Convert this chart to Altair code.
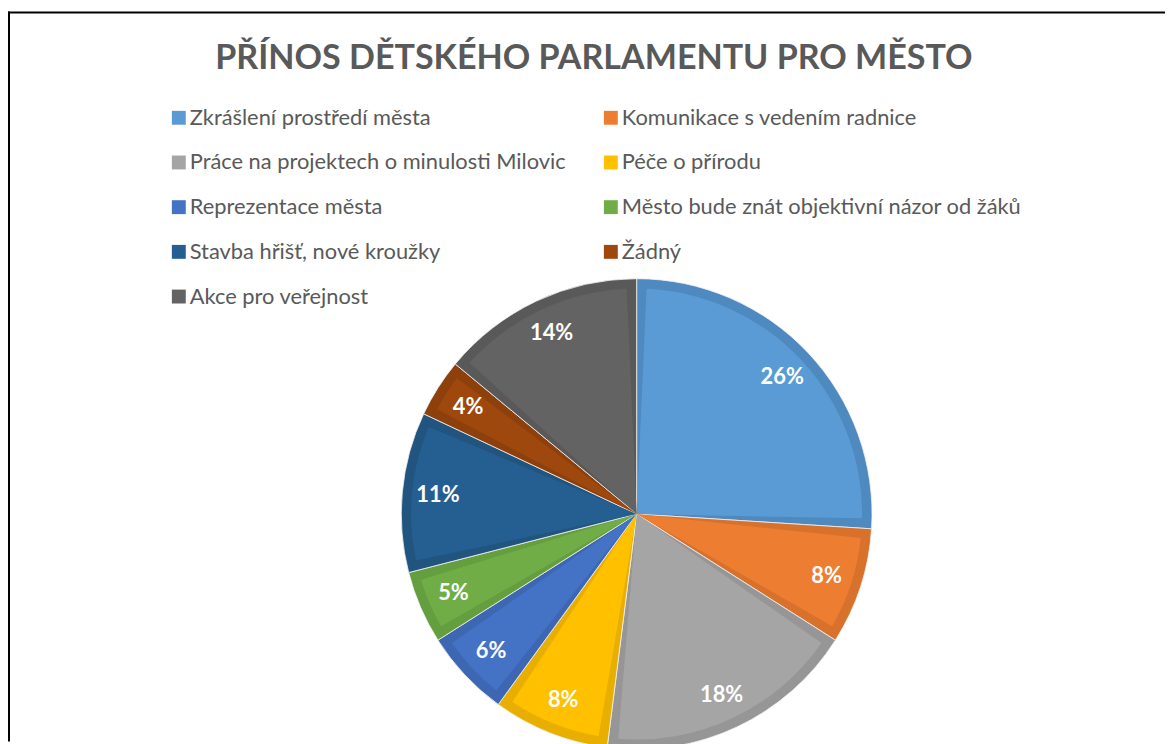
import altair as alt
import pandas as pd

title_text = ["PŘÍNOS DĚTSKÉHO PARLAMENTU PRO MĚSTO"]
categories = [
    "Zkrášlení prostředí města",
    "Komunikace s vedením radnice",
    "Práce na projektech o minulosti Milovic",
    "Péče o přírodu",
    "Reprezentace města",
    "Město bude znát objektivní názor od žáků",
    "Stavba hřišť, nové kroužky",
    "Žádný",
    "\u2002Akce pro veřejnost",
]
values = [26, 8, 18, 8, 6, 5, 11, 4, 14]
fill_colors = ["#5B9BD5", "#ED7D31", "#A5A5A5", "#FFC000", "#4472C4",
               "#70AD47", "#255E91", "#9E480E", "#636363"]
border_colors = ["#4E89BF", "#D7712B", "#969696", "#E8AF00", "#3D67B3",
                 "#659E3F", "#21557F", "#8D400C", "#595959"]

df = pd.DataFrame({
    "cat": categories,
    "val": values,
    "idx": list(range(len(values))),
    "dark": border_colors,
    "lbl": [f"{v}%" for v in values],
})

W, H = 1165, 736
CX, CY = 633, 507
R = 237

base = alt.Chart(df).encode(
    theta=alt.Theta("val:Q", stack=True),
    order=alt.Order("idx:Q"),
    x=alt.value(CX),
    y=alt.value(CY),
)

dark = base.mark_arc(outerRadius=R, stroke="#f2f2f2", strokeWidth=0.8).encode(
    color=alt.Color("dark:N", scale=None)
)

light = base.mark_arc(outerRadius=R - 10, padAngle=0.088).encode(
    color=alt.Color(
        "cat:N",
        scale=alt.Scale(domain=categories, range=fill_colors),
        sort=categories,
        legend=alt.Legend(
            orient="none", legendX=161, legendY=97, columns=2,
            direction="horizontal",
            symbolType="square", symbolSize=196, symbolStrokeWidth=0,
            symbolOpacity=1,
            labelFont="Lato", labelFontSize=22, labelColor="#595959",
            labelLimit=600, labelOffset=0, rowPadding=23, columnPadding=34,
            title=None,
        ),
    )
)

labels = base.mark_text(
    radius=201, font="Lato", fontSize=22, fontWeight="bold", color="white"
).encode(text="lbl:N")

title = alt.Chart(pd.DataFrame({"t": title_text})).mark_text(
    font="Lato", fontSize=34.3, fontWeight="bold", color="#595959",
    align="center", baseline="alphabetic"
).encode(text="t:N", x=alt.value(590), y=alt.value(59))

frame_df = pd.DataFrame({"a": [0]})
left_line = alt.Chart(frame_df).mark_rule(color="black", strokeWidth=2).encode(
    x=alt.value(1), y=alt.value(1), y2=alt.value(H)
)
top_line = alt.Chart(frame_df).mark_rule(color="black", strokeWidth=2).encode(
    x=alt.value(0), x2=alt.value(W), y=alt.value(2)
)

chart = alt.layer(dark, light, labels, title, left_line, top_line).properties(
    width=W, height=H, autosize=alt.AutoSizeParams(type="none"), padding=0
).configure_view(stroke=None)

chart.save("out.html", embed_options={"renderer": "svg", "actions": False})
